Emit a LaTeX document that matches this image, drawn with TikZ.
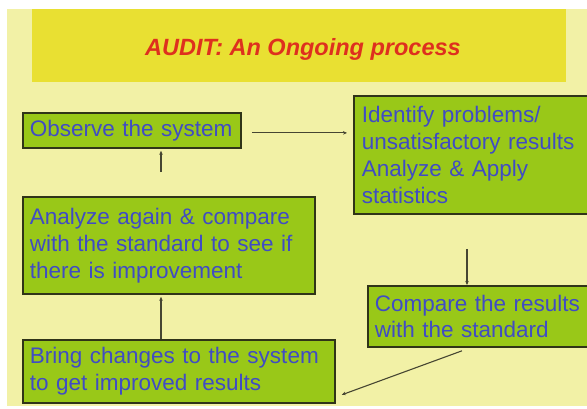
\documentclass[tikz,border=0pt]{standalone}
\usepackage{fontspec}
\setmainfont{Liberation Sans}
\usetikzlibrary{arrows.meta,calc}
\definecolor{pagebg}{RGB}{242,241,166}
\definecolor{bandbg}{RGB}{233,224,50}
\definecolor{titlered}{RGB}{222,48,30}
\definecolor{boxgreen}{RGB}{153,200,24}
\definecolor{boxborder}{RGB}{48,52,24}
\definecolor{textblue}{RGB}{64,76,196}
\definecolor{arrowcol}{RGB}{70,70,50}
\tikzset{
  stepbox/.style={draw=boxborder, line width=1.8pt, fill=boxgreen, text=textblue,
    font=\fontsize{22.5}{26.8}\selectfont, align=left, anchor=north west,
    inner xsep=7pt, inner ysep=0pt},
  flowarrow/.style={draw=arrowcol, line width=1.1pt, -{Stealth[length=4pt,width=3.5pt]}}
}
\begin{document}
\begin{tikzpicture}[x=1pt,y=-1pt]
\clip (0,0) rectangle (587,408);
\fill[white] (0,0) rectangle (587,408);
\fill[pagebg] (7,9) rectangle (587,406);
\fill[bandbg] (32,9) rectangle (566,82);
\node[text=titlered, font=\fontsize{23.5}{28}\selectfont\bfseries\itshape] (title) at (303,49) {AUDIT: An Ongoing process};
\node[stepbox, text width=204pt, minimum height=35pt] (o) at (22,112) {Observe the system};
\node[stepbox, inner xsep=8pt, text width=230pt, minimum height=118pt] (i) at (353,95) {Identify problems/\\unsatisfactory results\\Analyze \& Apply\\statistics};
\node[stepbox, text width=278pt, minimum height=97pt] (a) at (22,196) {Analyze again \& compare\\with the standard to see if\\there is improvement};
\node[stepbox, text width=220pt, minimum height=61pt] (c) at (367,285) {Compare the results\\with the standard};
\node[stepbox, text width=298pt, minimum height=63pt] (b) at (22,339) {Bring changes to the system\\to get improved results};
\coordinate (ax) at (161,0);
\coordinate (cx) at (467,0);
\draw[flowarrow, shorten <=10pt, shorten >=6pt] ($(o.east)+(0,2.5)$) -- ($(o.east -| i.west)+(0,2.5)$);
\draw[flowarrow, shorten <=24pt, shorten >=2pt] (ax |- a.north) -- (ax |- o.south);
\draw[flowarrow, shorten >=2pt] (ax |- b.north) -- (ax |- a.south);
\draw[flowarrow, shorten <=34pt] (cx |- i.south) -- (cx |- c.north);
\draw[flowarrow] ($(c.south west)+(95,3)$) -- ($(b.south east)+(6,-9)$);
\end{tikzpicture}
\end{document}
